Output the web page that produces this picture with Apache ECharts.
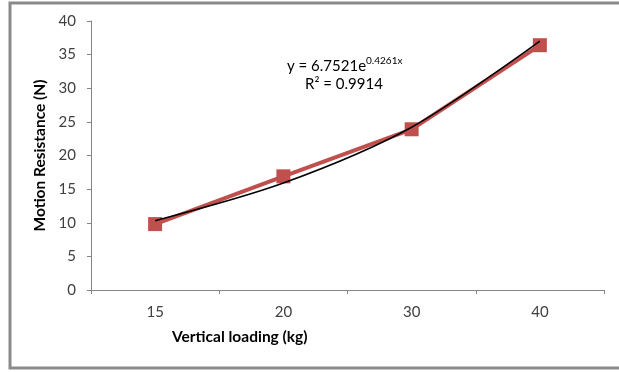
<!DOCTYPE html>
<html>
<head>
<meta charset="utf-8">
<script src="https://cdn.jsdelivr.net/npm/echarts@6/dist/echarts.min.js"></script>
<style>html,body{margin:0;padding:0;background:#fff}#c{width:619px;height:372px}</style>
</head>
<body>
<div id="c"></div>
<script>
const categories = ['15', '20', '30', '40'];
const resistance = [9.8, 16.9, 23.9, 36.4];
const trendValues = [10.3, 15.9, 24.2, 37.0];
const yTicks = { min: 0, max: 40, interval: 5 };
const xTitle = 'Vertical loading (kg)';
const yTitle = 'Motion Resistance (N)';
const eqMain = 'y = 6.7521e';
const eqExp = '0.4261x';
const eqR2 = 'R² = 0.9914';

const FONT = 'Lato, "Open Sans", sans-serif';
const chart = echarts.init(document.getElementById('c'), null, { renderer: 'canvas' });
chart.setOption({
  animation: false,
  backgroundColor: '#fff',
  grid: { left: 91, right: 15, top: 21, bottom: 82 },
  xAxis: {
    type: 'category',
    data: categories,
    boundaryGap: true,
    axisLine: { lineStyle: { color: '#868686', width: 1 } },
    axisTick: { show: true, alignWithLabel: false, length: 4, lineStyle: { color: '#868686' } },
    axisLabel: { color: '#404040', fontSize: 15, fontFamily: FONT, margin: 15 },
    splitLine: { show: false }
  },
  yAxis: {
    type: 'value',
    min: yTicks.min, max: yTicks.max, interval: yTicks.interval,
    name: yTitle,
    nameLocation: 'middle',
    nameGap: 40,
    nameRotate: 90,
    nameTextStyle: { color: '#000', fontSize: 15.5, fontWeight: 'bold', fontFamily: FONT },
    axisLine: { show: true, lineStyle: { color: '#868686', width: 1 } },
    axisTick: { show: true, length: 4, lineStyle: { color: '#868686' } },
    axisLabel: { color: '#404040', fontSize: 15, fontFamily: FONT, margin: 15 },
    splitLine: { show: false }
  },
  graphic: [
    { type: 'rect', shape: { x: 10, y: 3, width: 640, height: 365 }, style: { fill: 'none', stroke: '#8a8a8a', lineWidth: 3 }, silent: true, z: 100 },
    { type: 'text', left: 172, top: 329, style: { text: xTitle, font: 'bold 15.5px ' + FONT, fill: '#000' } },
    { type: 'text', x: 287, y: 56, style: {
        text: '{m|' + eqMain + '}{s|' + eqExp + '}',
        rich: {
          m: { font: '15px ' + FONT, fill: '#000', verticalAlign: 'bottom', lineHeight: 18 },
          s: { font: '10px ' + FONT, fill: '#000', verticalAlign: 'top', lineHeight: 18, padding: [0, 0, 9, 0] }
        } } },
    { type: 'text', x: 305, y: 77, style: { text: eqR2, font: '15px ' + FONT, fill: '#000' } }
  ],
  series: [
    {
      type: 'line',
      data: resistance,
      symbol: 'rect',
      symbolSize: 14,
      itemStyle: { color: '#C0504D' },
      lineStyle: { color: '#C0504D', width: 4 },
      z: 2
    },
    {
      type: 'line',
      data: trendValues,
      smooth: 0.3,
      symbol: 'none',
      lineStyle: { color: '#000', width: 1.5 },
      z: 3
    }
  ]
});
</script>
</body>
</html>
